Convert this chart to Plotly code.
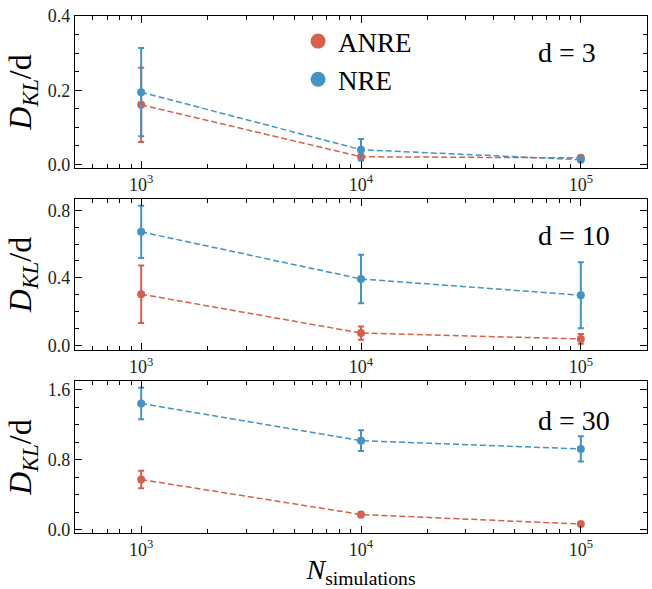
import plotly.graph_objects as go
from plotly.subplots import make_subplots

# Number of simulations (x axis, log scale)
n_sims = [1e3, 1e4, 1e5]

# D_KL / d for each dimension, ANRE and NRE, with 1-sigma errors
anre_d3 = [0.161, 0.021, 0.018]
anre_d3_err = [0.100, 0.006, 0.004]
nre_d3 = [0.195, 0.040, 0.013]
nre_d3_err = [0.119, 0.029, 0.004]

anre_d10 = [0.303, 0.073, 0.038]
anre_d10_err = [0.170, 0.039, 0.029]
nre_d10 = [0.672, 0.393, 0.297]
nre_d10_err = [0.155, 0.143, 0.195]

anre_d30 = [0.573, 0.173, 0.064]
anre_d30_err = [0.100, 0.030, 0.015]
nre_d30 = [1.443, 1.017, 0.923]
nre_d30_err = [0.180, 0.118, 0.145]

dims = ["3", "10", "30"]
x_ticks = [1e3, 1e4, 1e5]
x_tick_text = ["10<sup>3</sup>", "10<sup>4</sup>", "10<sup>5</sup>"]

ANRE_COLOR = "#d6604d"
NRE_COLOR = "#4393c3"
FONT = "serif"

panels = [
    (anre_d3, anre_d3_err, nre_d3, nre_d3_err),
    (anre_d10, anre_d10_err, nre_d10, nre_d10_err),
    (anre_d30, anre_d30_err, nre_d30, nre_d30_err),
]
y_ranges = [[-0.009, 0.4001], [-0.03, 0.869], [-0.038, 1.698]]
y_major = [0.2, 0.4, 0.8]
y_minor = [0.05, 0.1, 0.2]

fig = make_subplots(rows=3, cols=1, vertical_spacing=0.0593)

for i, (a, ae, n, ne) in enumerate(panels):
    row = i + 1
    for vals, errs, color in ((a, ae, ANRE_COLOR), (n, ne, NRE_COLOR)):
        fig.add_trace(
            go.Scatter(
                x=n_sims, y=vals, mode="lines+markers",
                line=dict(color=color, width=1.5, dash="6px,3px"),
                marker=dict(color=color, size=8),
                error_y=dict(type="data", array=errs, visible=True,
                             color=color, thickness=2, width=3),
                showlegend=False,
            ),
            row=row, col=1,
        )

# Legend entries with larger markers (placed below the visible range)
for name, color, grp in (("ANRE", ANRE_COLOR, "a"), ("NRE", NRE_COLOR, "b")):
    fig.add_trace(
        go.Scatter(x=[1e3], y=[-10], mode="markers", name=name,
                   legendgroup=grp,
                   marker=dict(color=color, size=15)),
        row=1, col=1,
    )

axis_common = dict(
    showline=True, linecolor="black", linewidth=1.2, mirror="ticks",
    ticks="inside", ticklen=7, tickwidth=1, tickcolor="black",
    showgrid=False, zeroline=False,
    tickfont=dict(family=FONT, size=18, color="#222"),
)

for i in range(3):
    row = i + 1
    fig.update_xaxes(
        type="log", range=[2.699, 5.301],
        tickmode="array", tickvals=x_ticks, ticktext=x_tick_text,
        minor=dict(ticks="inside", ticklen=4, tickcolor="black", dtick="D1"),
        row=row, col=1, **axis_common,
    )
    fig.update_yaxes(
        range=y_ranges[i], tick0=0, dtick=y_major[i], tickformat=".1f",
        minor=dict(ticks="inside", ticklen=4, tickcolor="black",
                   tick0=0, dtick=y_minor[i]),
        title=dict(text="<i>D</i><sub><i>KL</i></sub>/d",
                   font=dict(family=FONT, size=32, color="black"),
                   standoff=6),
        row=row, col=1, **axis_common,
    )
    fig.add_annotation(
        text=f"d = {dims[i]}", xref=f"x{'' if row == 1 else row} domain",
        yref=f"y{'' if row == 1 else row} domain",
        x=0.806, y=[0.76, 0.758, 0.742][i], xanchor="left", yanchor="middle",
        showarrow=False, font=dict(family=FONT, size=28, color="black"),
    )

fig.update_xaxes(
    title=dict(text="<i>N</i><sub>simulations</sub>",
               font=dict(family=FONT, size=28, color="black"), standoff=4),
    row=3, col=1,
)

fig.update_layout(
    width=652, height=589,
    margin=dict(l=75, r=5, t=16, b=56),
    paper_bgcolor="white", plot_bgcolor="white",
    legend=dict(x=0.39, y=0.998, xanchor="left", yanchor="top",
                bgcolor="rgba(0,0,0,0)", tracegroupgap=0,
                font=dict(family=FONT, size=27, color="black")),
    font=dict(family=FONT, color="black"),
)

fig.write_html("out.html")
